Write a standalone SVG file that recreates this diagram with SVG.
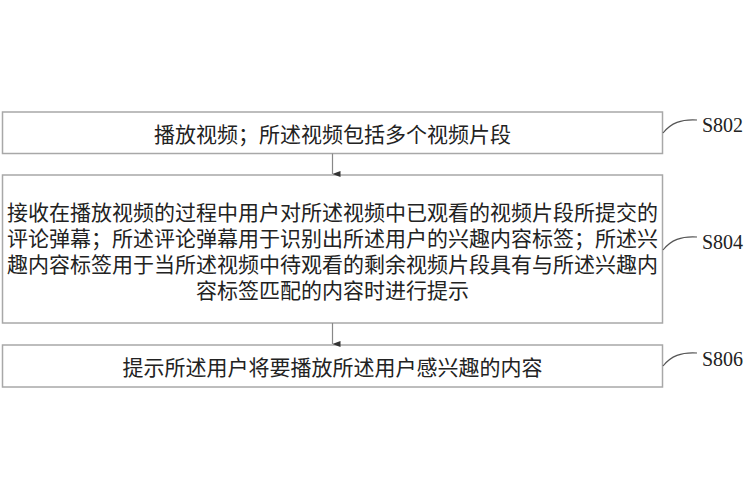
<svg xmlns="http://www.w3.org/2000/svg" width="751" height="500" viewBox="0 0 751 500">
<style>
.box{fill:#fff;stroke:#a8a8a8;stroke-width:1.5}
.t{font-family:"Noto Sans CJK SC","Noto Sans CJK TC",sans-serif;font-size:21px;fill:#222;text-anchor:middle;dominant-baseline:central}
.lbl{font-family:"Liberation Serif","DejaVu Serif",serif;font-size:20px;fill:#222}
.cur{fill:none;stroke:#555;stroke-width:1.2}
.con{stroke:#888;stroke-width:1.2;fill:none}
</style>
<defs>
<marker id="ah" viewBox="0 0 6 8" refX="3" refY="8" markerWidth="6" markerHeight="8" markerUnits="userSpaceOnUse" orient="auto-start-reverse">
<path d="M0,0 L6,0 L3,8 Z" fill="#333"/>
</marker>
</defs>
<rect width="751" height="500" fill="#fff"/>
<g id="S802">
<rect class="box" x="2.5" y="112" width="660" height="41.5"/>
<text class="t" x="332.5" y="132.5">播放视频；所述视频包括多个视频片段</text>
<path class="cur" d="M663,133 C671,123 681,119 697,120"/>
<text class="lbl" x="702" y="132">S802</text>
</g>
<g id="S804">
<rect class="box" x="2.5" y="175" width="660" height="148"/>
<text class="t" x="332.5" y="211">接收在播放视频的过程中用户对所述视频中已观看的视频片段所提交的</text>
<text class="t" x="332.5" y="237">评论弹幕；所述评论弹幕用于识别出所述用户的兴趣内容标签；所述兴</text>
<text class="t" x="332.5" y="263">趣内容标签用于当所述视频中待观看的剩余视频片段具有与所述兴趣内</text>
<text class="t" x="332.5" y="289">容标签匹配的内容时进行提示</text>
<path class="cur" d="M663,250 C671,240 681,236 697,237"/>
<text class="lbl" x="702" y="249">S804</text>
</g>
<g id="S806">
<rect class="box" x="2.5" y="345" width="660" height="42"/>
<text class="t" x="332.5" y="366">提示所述用户将要播放所述用户感兴趣的内容</text>
<path class="cur" d="M663,366 C671,356 681,352 697,353"/>
<text class="lbl" x="702" y="366">S806</text>
</g>
<g id="connectors">
<line class="con" x1="332.5" y1="153.5" x2="332.5" y2="174" marker-end="url(#ah)"/>
<line class="con" x1="332.5" y1="323" x2="332.5" y2="344" marker-end="url(#ah)"/>
</g>
</svg>
